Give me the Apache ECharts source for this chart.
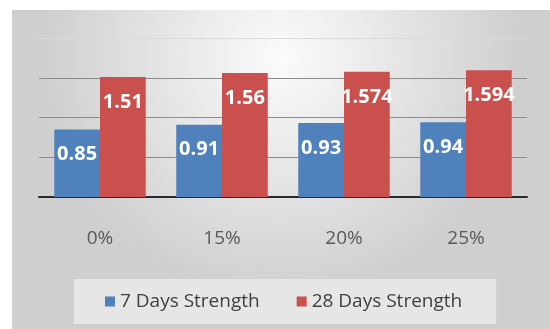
<!DOCTYPE html>
<html>
<head>
<meta charset="utf-8">
<script src="https://cdn.jsdelivr.net/npm/echarts@6/dist/echarts.min.js"></script>
<style>
  html, body { margin: 0; padding: 0; background: #fff; }
  #strength-chart { width: 550px; height: 329px; }
</style>
</head>
<body>
<div id="strength-chart"></div>
<script>
var categories = ['0%', '15%', '20%', '25%'];
var sevenDays = [0.85, 0.91, 0.93, 0.94];
var twentyEightDays = [1.51, 1.56, 1.574, 1.594];
var seriesNames = ['7 Days Strength', '28 Days Strength'];

var myChart = echarts.init(document.getElementById('strength-chart'));

var barLabel = {
  show: true,
  position: 'insideTop',
  distance: 15,
  color: '#fff',
  fontFamily: 'Open Sans',
  fontWeight: 'bold',
  fontSize: 20
};

myChart.setOption({
  backgroundColor: '#fff',
  animation: false,
  color: ['#4F81BD', '#C9504D'],
  graphic: [
    {
      type: 'rect',
      z: -10,
      shape: { x: 12, y: 10, width: 538, height: 319 },
      style: {
        fill: {
          type: 'radial',
          x: 0.5, y: 0.15, r: 0.75,
          colorStops: [
            { offset: 0, color: '#fbfbfb' },
            { offset: 1, color: '#cfcfcf' }
          ]
        }
      }
    }
  ],
  grid: {
    left: 39,
    right: 23,
    top: 38,
    bottom: 132
  },
  legend: {
    data: seriesNames,
    left: 74,
    top: 279,
    icon: 'rect',
    itemWidth: 10,
    itemHeight: 10,
    itemGap: 37,
    backgroundColor: '#e6e6e6',
    padding: [13, 34, 13, 31],
    textStyle: {
      color: '#404040',
      fontFamily: 'Open Sans',
      fontSize: 19
    }
  },
  xAxis: {
    type: 'category',
    data: categories,
    axisLine: { lineStyle: { color: '#2a2a2a', width: 2 } },
    axisTick: { show: false },
    axisLabel: {
      margin: 32,
      color: '#595959',
      fontFamily: 'Open Sans',
      fontSize: 19
    }
  },
  yAxis: {
    type: 'value',
    min: 0,
    max: 2,
    interval: 0.5,
    axisLabel: { show: false },
    axisLine: { show: false },
    axisTick: { show: false },
    splitLine: {
      lineStyle: { color: ['#8c8c8c', '#8c8c8c', '#8c8c8c', '#8c8c8c', '#dadada'], width: 1 }
    }
  },
  series: [
    {
      name: seriesNames[0],
      type: 'bar',
      barGap: '0%',
      barCategoryGap: '25%',
      label: barLabel,
      data: sevenDays
    },
    {
      name: seriesNames[1],
      type: 'bar',
      label: barLabel,
      data: twentyEightDays
    }
  ]
});
</script>
</body>
</html>
